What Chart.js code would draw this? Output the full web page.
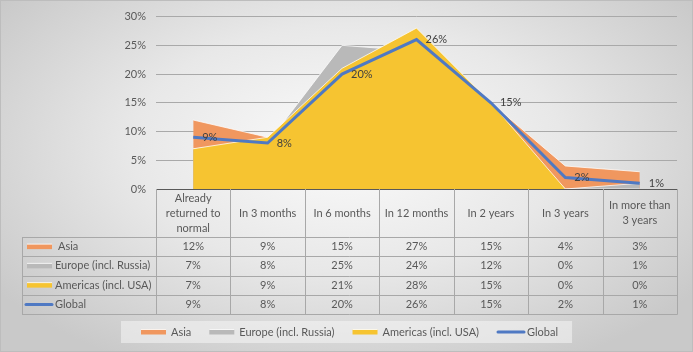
<!DOCTYPE html>
<html><head><meta charset="utf-8">
<script src="https://cdn.jsdelivr.net/npm/chart.js@4.4.1/dist/chart.umd.min.js"></script>
<style>
html,body{margin:0;padding:0;background:#fff;}
#wrap{position:relative;width:693px;height:352px;background:radial-gradient(ellipse 62% 70% at 50% 42%, #fbfbfb 0%, #e8e8e8 50%, #c9c9c9 100%);box-shadow:inset 0 0 0 1px #bdbdbd;}
canvas{display:block;}
</style></head><body>
<div id="wrap"><canvas id="c" width="693" height="352"></canvas></div>
<script>
const categories = [["Already","returned to","normal"],"In 3 months","In 6 months","In 12 months","In 2 years","In 3 years",["In more than","3 years"]];
const seriesNames = ["Asia","Europe (incl. Russia)","Americas (incl. USA)","Global"];
const asiaValues = [12,9,15,27,15,4,3];
const europeValues = [7,8,25,24,12,0,1];
const americasValues = [7,9,21,28,15,0,0];
const globalValues = [9,8,20,26,15,2,1];
const yTickValues = [0,5,10,15,20,25,30];

const colors = ["#F0975F","#B9B9B9","#F6C431","#4F79C3"];
const FONT = "Lato, 'Open Sans', sans-serif";
const TXT = "#595959";
const FS = 11;

function line(ctx,x1,y1,x2,y2){ctx.beginPath();ctx.moveTo(x1,y1);ctx.lineTo(x2,y2);ctx.stroke();}

const tablePlugin = {
  id:'dataTable',
  afterDraw(chart){
    const ctx = chart.ctx, xs = chart.scales.x, area = chart.chartArea;
    const n = categories.length;
    const colW = xs.getPixelForValue(1) - xs.getPixelForValue(0);
    const top = area.bottom;
    const rowsTop = top + 48;
    const rowH = 19.25;
    const rowsBottom = rowsTop + 4*rowH;
    const labelLeft = 22;
    ctx.save();
    ctx.strokeStyle = '#a8a8a8'; ctx.lineWidth = 1;
    for (let i=0;i<=n;i++){
      const xx = Math.round(xs.getPixelForValue(0) - colW/2 + i*colW) + 0.5;
      line(ctx, xx, top, xx, Math.round(rowsBottom)+0.5);
    }
    line(ctx, labelLeft+0.5, Math.round(rowsTop)+0.5, labelLeft+0.5, Math.round(rowsBottom)+0.5);
    for (let r=0;r<=4;r++){
      const yy = Math.round(rowsTop + r*rowH)+0.5;
      line(ctx, labelLeft, yy, area.right+0.5, yy);
    }
    const allVals = [asiaValues, europeValues, americasValues, globalValues];
    ctx.font = FS + "px " + FONT; ctx.fillStyle = TXT; ctx.textBaseline = 'middle'; ctx.textAlign = 'center';
    allVals.forEach((vals, r) => {
      const cy = rowsTop + r*rowH + rowH/2;
      vals.forEach((v,i) => { ctx.fillText(v + '%', xs.getPixelForValue(i), cy); });
    });
    ctx.textAlign = 'left';
    seriesNames.forEach((name, r) => {
      const cy = rowsTop + r*rowH + rowH/2;
      if (r < 3) {
        ctx.fillStyle = colors[r]; ctx.fillRect(27, cy-2.5, 25, 5);
        ctx.fillStyle = 'rgba(255,255,255,0.8)'; ctx.fillRect(27, cy-3, 25, 1);
      } else {
        ctx.strokeStyle = colors[3]; ctx.lineWidth = 3; ctx.lineCap='round';
        line(ctx, 26, cy, 52, cy);
      }
      ctx.fillStyle = TXT;
      ctx.fillText(name, r===0 ? 58 : 55, cy);
    });
    // bottom legend
    const keyW = 25, gap = 5, itemGap = 18;
    const widths = seriesNames.map(s => keyW + gap + ctx.measureText(s).width);
    const total = widths.reduce((a,b)=>a+b,0) + itemGap*(widths.length-1);
    const boxW = total + 34;
    const boxX = Math.round((chart.width - boxW)/2), boxY = 321, boxH = 22;
    ctx.fillStyle = 'rgba(245,245,245,0.55)';
    ctx.fillRect(boxX, boxY, boxW, boxH);
    let x = boxX + 20; const cy = boxY + boxH/2;
    seriesNames.forEach((name, r) => {
      if (r < 3) {
        ctx.fillStyle = colors[r]; ctx.fillRect(x, cy-2.5, keyW, 5);
        ctx.fillStyle = 'rgba(255,255,255,0.8)'; ctx.fillRect(x, cy-3, keyW, 1);
      } else {
        ctx.strokeStyle = colors[3]; ctx.lineWidth = 3; ctx.lineCap='round';
        line(ctx, x+1, cy, x+keyW+2, cy);
      }
      ctx.fillStyle = TXT; ctx.textAlign='left';
      ctx.fillText(name, x + keyW + gap, cy);
      x += widths[r] + itemGap;
    });
    ctx.restore();
  }
};

const labelPlugin = {
  id:'globalLabels',
  afterDatasetsDraw(chart){
    const ctx = chart.ctx;
    const meta = chart.getDatasetMeta(3);
    ctx.save();
    ctx.font = FS + "px " + FONT; ctx.fillStyle = '#404040';
    ctx.textAlign = 'left'; ctx.textBaseline = 'middle';
    meta.data.forEach((p,i) => { ctx.fillText(globalValues[i] + '%', p.x + 9, p.y); });
    ctx.restore();
  }
};

const areaBorder = 'rgba(255,255,255,0.75)';
new Chart(document.getElementById('c'), {
  type: 'line',
  data: {
    labels: categories,
    datasets: [
      {label: seriesNames[0], data: asiaValues, backgroundColor: colors[0], borderColor: areaBorder, borderWidth: 1, fill: 'origin', pointRadius: 0, order: 4, tension: 0},
      {label: seriesNames[1], data: europeValues, backgroundColor: colors[1], borderColor: areaBorder, borderWidth: 1, fill: 'origin', pointRadius: 0, order: 3, tension: 0},
      {label: seriesNames[2], data: americasValues, backgroundColor: colors[2], borderColor: areaBorder, borderWidth: 1, fill: 'origin', pointRadius: 0, order: 2, tension: 0},
      {label: seriesNames[3], data: globalValues, borderColor: colors[3], backgroundColor: colors[3], borderWidth: 3, fill: false, pointRadius: 0, order: 1, tension: 0}
    ]
  },
  options: {
    responsive: false, animation: false, devicePixelRatio: 1,
    layout: {padding: {left: 116, right: 16, top: 14, bottom: 0}},
    plugins: {legend: {display: false}, tooltip: {enabled: false}},
    scales: {
      x: {
        offset: true,
        grid: {display: false, drawTicks: false},
        border: {display: true, color: '#595959', width: 1},
        ticks: {color: TXT, font: {family: FONT, size: FS, lineHeight: 15/FS}, padding: 9, maxRotation: 0, autoSkip: false, crossAlign: 'center'},
        afterFit(s){ s.height = 163; }
      },
      y: {
        min: 0, max: 30,
        afterBuildTicks(s){ s.ticks = yTickValues.map(v => ({value: v})); },
        grid: {color: '#a9a9a9', drawTicks: false},
        border: {display: false},
        ticks: {color: TXT, font: {family: FONT, size: FS}, padding: 10, callback: v => v + '%'},
        afterFit(s){ s.width = 40; }
      }
    }
  },
  plugins: [tablePlugin, labelPlugin]
});
</script>
</body></html>
